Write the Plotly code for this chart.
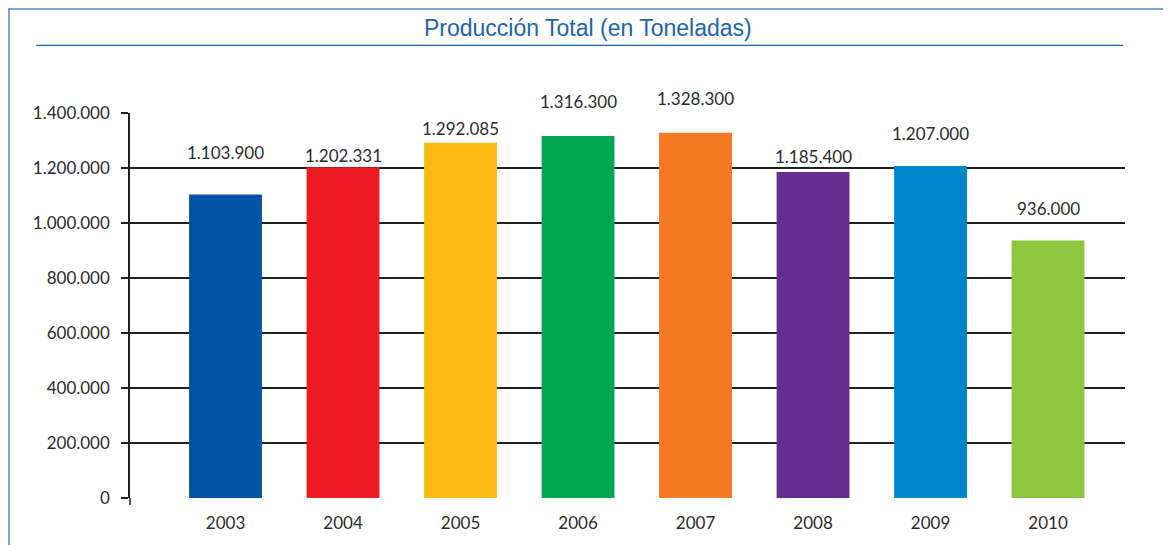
import plotly.graph_objects as go

years = ["2003", "2004", "2005", "2006", "2007", "2008", "2009", "2010"]
production = [1103900, 1202331, 1292085, 1316300, 1328300, 1185400, 1207000, 936000]
colors = ["#0353a4", "#ed1c24", "#fdb913", "#00a651", "#f47920", "#662d91", "#0087cb", "#8dc63f"]
label_shift = [42, 12, 14, 35, 34, 16, 33, 32]  # pixel offsets of value labels above bars
yticks = [0, 200000, 400000, 600000, 800000, 1000000, 1200000, 1400000]

def fmt(v):
    return f"{v:,}".replace(",", ".")

OFF = 8  # browser default body margin
W, H = 1171 - OFF, 545 - OFF
L, R, T, B = 130 - OFF, 46, 113 - OFF, 45
pw, ph = W - L - R, H - T - B
def px(x):  # screenshot pixel -> paper
    return (x - OFF - L) / pw
def py(y):
    return (H - B - (y - OFF)) / ph

FONT = "Lato, Open Sans, Arial"
xs = list(range(len(years)))
fig = go.Figure()
fig.add_trace(go.Bar(x=xs, y=production, marker=dict(color=colors, line=dict(width=0)),
                     width=0.62, hoverinfo="skip"))

for i, (v, s) in enumerate(zip(production, label_shift)):
    fig.add_annotation(x=i, y=v, text=fmt(v), showarrow=False, yshift=s,
                       font=dict(family=FONT, size=17, color="#2b2b2b"))

fig.add_annotation(x=px(587.5), y=py(28), xref="paper", yref="paper", xanchor="center", yanchor="middle",
                   text="Producción Total (en Toneladas)", showarrow=False,
                   font=dict(family="Liberation Sans, Arial", size=23, color="#1d63b0"))

shapes = [
    dict(type="line", xref="paper", yref="paper", x0=px(36), x1=px(1123), y0=py(45), y1=py(45),
         line=dict(color="#1d5fa8", width=1.3)),
    dict(type="rect", xref="paper", yref="paper", x0=px(9), x1=px(1165.5), y0=py(8.5), y1=py(580),
         line=dict(color="#4a86c8", width=1.5)),
    dict(type="line", xref="paper", yref="paper", x0=0, x1=0, y0=py(507), y1=py(500),
         line=dict(color="#231f20", width=1.5)),
]
fig.update_layout(shapes=shapes)

fig.update_layout(
    width=W, height=H, margin=dict(l=L, r=R, t=T, b=B),
    paper_bgcolor="white", plot_bgcolor="white", showlegend=False,
    xaxis=dict(range=[-0.813, 7.655], tickvals=xs, ticktext=years, showgrid=False, zeroline=False,
               showline=False, ticks="outside", ticklen=10, tickcolor="rgba(0,0,0,0)",
               tickfont=dict(family=FONT, size=17, color="#2b2b2b")),
    yaxis=dict(range=[0, 1400000], tickvals=yticks, ticktext=[fmt(v) for v in yticks],
               showgrid=True, gridcolor="#231f20", gridwidth=1.5, zeroline=False,
               showline=True, linecolor="#231f20", linewidth=1.5,
               ticks="outside", ticklen=7, tickcolor="#231f20", tickwidth=1.5,
               ticklabelstandoff=8,
               tickfont=dict(family=FONT, size=17, color="#2b2b2b")),
)

fig.write_html("out.html")
